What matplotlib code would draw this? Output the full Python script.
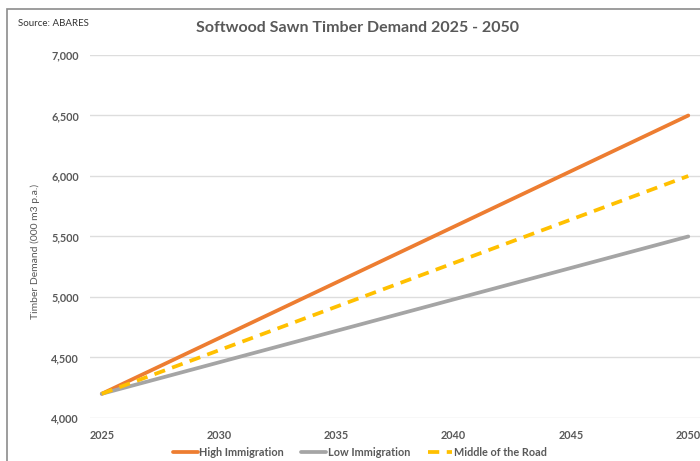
import matplotlib
matplotlib.use("Agg")
import matplotlib.pyplot as plt
from matplotlib.patches import Rectangle

plt.rcParams['font.family'] = ['Lato', 'DejaVu Sans']

years = [2025, 2050]
high_immigration = [4200, 6500]
low_immigration = [4200, 5500]
middle_of_road = [4200, 6000]
x_ticks = [2025, 2030, 2035, 2040, 2045, 2050]
y_ticks = [4000, 4500, 5000, 5500, 6000, 6500, 7000]

txt = '#595959'
fig = plt.figure(figsize=(7, 4.61), dpi=100)
ax = fig.add_axes([0.1286, 0.0933, 0.8714, 0.7874])

ax.plot(years, high_immigration, color='#ED7D31', lw=2.7, label='High Immigration', solid_capstyle='round')
ax.plot(years, low_immigration, color='#A5A5A5', lw=2.7, label='Low Immigration', solid_capstyle='round')
ax.plot(years, middle_of_road, color='#FFC000', lw=2.7, ls=(0, (3, 2)), label='Middle of the Road')

ax.set_xlim(2024.5, 2050.5)
ax.set_ylim(4000, 7000)
ax.set_xticks(x_ticks)
ax.set_yticks(y_ticks)
ax.set_yticklabels([f'{v:,}' for v in y_ticks])
ax.grid(axis='y', color='#DDDDDD', lw=1)
ax.set_axisbelow(True)
for s in ax.spines.values():
    s.set_visible(False)
ax.tick_params(length=0, labelsize=7.8, labelcolor=txt, pad=8)
for lab in ax.get_xticklabels() + ax.get_yticklabels():
    lab.set_fontweight('bold')
ax.tick_params(axis='x', pad=9)

ax.set_ylabel('Timber Demand (000 m3 p.a.)', fontsize=7.5, color=txt, labelpad=12)
ax.yaxis.set_label_coords(-0.082, 0.46)

fig.text(0.511, 0.94, 'Softwood Sawn Timber Demand 2025 - 2050', ha='center', va='center',
         fontsize=11.5, fontweight='bold', color=txt)
fig.text(0.026, 0.948, 'Source: ABARES', ha='left', va='center', fontsize=7, color='#333333')

leg = fig.legend(loc='center', bbox_to_anchor=(0.514, 0.018), ncol=3, frameon=False,
                 handlelength=2.3, columnspacing=1.6, handletextpad=0.15,
                 labelcolor=txt, prop={'weight': 'bold', 'size': 7.8})

fig.patches.append(Rectangle((6.5/700, -0.1), 1.2, (461 - 9.5)/461 + 0.1, transform=fig.transFigure,
                             fill=False, edgecolor='#8C8C8C', lw=1.2, zorder=0))

fig.savefig('out.png', dpi=100)
